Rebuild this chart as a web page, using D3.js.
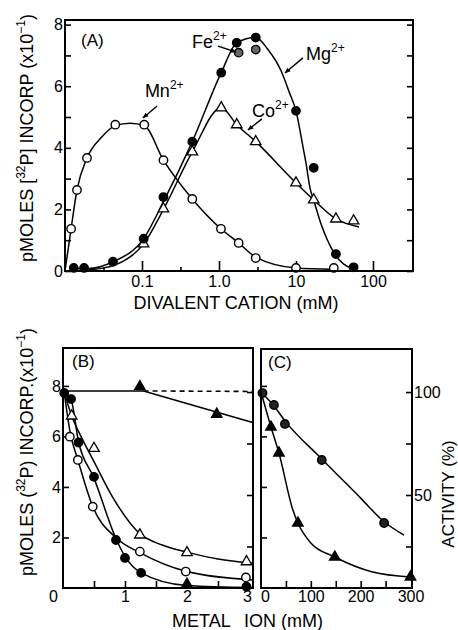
<!DOCTYPE html>
<html>
<head>
<meta charset="utf-8">
<script src="https://cdn.jsdelivr.net/npm/d3@7"></script>
<style>
  body { margin: 0; background: #fff; }
  svg text { font-family: "Liberation Sans", Arial, sans-serif; fill: #000; }
  .axis path.domain { display: none; }
  .axis line { stroke: #000; stroke-width: 1.6; }
  .axis text { font-size: 16px; font-family: "Liberation Sans", Arial, sans-serif; }
</style>
</head>
<body>
<div id="chart"></div>
<script>
// ---------- panel A : divalent cation (mM, log) vs pmoles x10^-1 ----------
var mnPoints = [[0.012,1.37],[0.0143,2.63],[0.0193,3.67],[0.045,4.75],[0.107,4.75],[0.19,3.6],[0.45,2.34],[1.06,1.37],[1.8,0.91],[3.0,0.42],[10,0.1],[31,0.1]];
var mgPoints = [[0.013,0.1],[0.0177,0.1],[0.042,0.3],[0.105,1.05],[0.19,2.4],[0.45,4.2],[1.07,6.44],[1.7,7.41],[3.0,7.58],[10,5.2],[17,3.35],[33,0.55],[56,0.12]];
var fePoints = [[1.8,7.09],[3.0,7.19]];
var coPoints = [[0.105,0.88],[0.19,2.02],[0.45,3.87],[1.07,5.3],[1.7,4.75],[3.0,4.2],[10,2.86],[17,2.31],[33,1.69],[56,1.63]];

var mnCurve = [[0.01,0],[0.012,1.37],[0.0143,2.63],[0.0193,3.67],[0.03,4.35],[0.045,4.72],[0.07,4.8],[0.107,4.72],[0.19,3.6],[0.45,2.34],[1.06,1.37],[1.8,0.91],[3.0,0.45],[10,0.1],[31,0.06]];
var mgCurve = [[0.013,0.08],[0.02,0.08],[0.042,0.3],[0.105,1.05],[0.19,2.25],[0.45,4.2],[1.07,6.44],[1.7,7.41],[3.0,7.58],[4.3,7.2],[6.4,6.5],[8.2,5.8],[10,5.2],[12.4,4.0],[13.5,3.5],[15.2,2.7],[17,2.3],[21,1.55],[31,0.6],[56,0.05]];
var coCurve = [[0.02,0.03],[0.045,0.2],[0.105,0.88],[0.19,2.0],[0.45,3.87],[1.07,5.3],[1.7,4.75],[3.0,4.2],[10,2.86],[17,2.31],[33,1.69],[66,1.43]];

var aYTicks = [0,1,2,3,4,5,6,7,8];
var aXMajor = [0.1,1,10,100];
var aXLabels = ["0.1","1.0","10","100"];
var aXMinor = [0.0316,0.316,3.16,31.6];

// ---------- panel B : metal ion (mM) vs pmoles x10^-1 ----------
var bOpenTri = [[0.14,6.81],[0.5,5.53],[1.24,2.1],[2.0,1.4],[2.96,1.04]];
var bOpenCirc = [[0.11,5.99],[0.24,5.07],[0.48,3.22],[1.24,1.44],[1.98,0.65],[2.95,0.42]];
var bFilledCirc = [[0.02,7.72],[0.13,7.48],[0.25,5.76],[0.5,4.4],[0.855,1.9],[1.0,1.19],[1.26,0.6],[2.96,0.05]];
var bFilledTri = [[1.24,7.97],[2.48,6.88],[2.0,0.15]];

var bTriCurve = [[0.02,7.72],[0.15,6.75],[0.3,5.95],[0.5,5.0],[0.8,3.6],[1.24,2.15],[1.6,1.7],[2.0,1.42],[2.5,1.15],[3.06,0.98]];
var bCircCurve = [[0.02,7.72],[0.12,6.1],[0.24,5.07],[0.48,3.22],[0.85,2.0],[1.24,1.4],[2.0,0.65],[3.06,0.32]];
var bFilledCurve = [[0.02,7.72],[0.13,7.45],[0.25,5.8],[0.5,4.35],[0.855,1.95],[1.0,1.25],[1.26,0.6],[2.0,0.1],[3.06,0.02]];
var bFlatLine = [[0,7.8],[1.3,7.8],[3.06,6.55]];
var bDashLine = [[1.3,7.8],[3.06,7.78]];

var bYTicks = [2,4,6,8];
var bXTicks = [0.5,1,1.5,2,2.5];
var bXLabels = [0,1,2,3];

// ---------- panel C : metal ion (mM) vs activity (%) ----------
var cCircles = [[3,99.5],[26,93.7],[48,84.5],[122,67],[247,36.4]];
var cTriangles = [[20,83],[36,70.4],[74,36.4],[148,19.9],[300,10.2]];
var cCircCurve = [[0,100],[26,93.2],[48,86],[122,67.5],[200,48.5],[247,37],[287,30.5]];
var cTriCurve = [[0,100],[20,83],[36,70.4],[64,42.7],[74,36.4],[100,26.7],[148,19.9],[224,12.6],[300,10.2]];

var cYTicks = [25,50,75,100];
var cYLabels = [50,100];
var cXTicks = [50,100,150,200,250];
var cXLabels = [0,100,200,300];

var width = 458, height = 630;

var svg = d3.select("#chart").append("svg")
  .attr("width", width)
  .attr("height", height);

svg.append("defs").append("marker")
  .attr("id", "arrow")
  .attr("viewBox", "0 0 10 10")
  .attr("refX", 9).attr("refY", 5)
  .attr("markerWidth", 6).attr("markerHeight", 6)
  .attr("markerUnits", "userSpaceOnUse")
  .attr("orient", "auto")
  .append("path")
  .attr("d", "M0,1L10,5L0,9Z")
  .attr("fill", "#000");

// scales
var xA = d3.scaleLog().domain([0.01, 331]).range([65, 413]);
var yA = d3.scaleLinear().domain([0, 8.15]).range([271, 20]);
var xB = d3.scaleLinear().domain([0, 3.065]).range([63, 253]);
var yB = d3.scaleLinear().domain([0, 9.5]).range([588, 348]);
var xC = d3.scaleLinear().domain([0, 303]).range([261, 412]);
var yC = d3.scaleLinear().domain([4.85, 120.9]).range([588, 349]);

function frame(x, y) {
  svg.append("rect")
    .attr("x", x.range()[0]).attr("y", y.range()[1])
    .attr("width", x.range()[1] - x.range()[0])
    .attr("height", y.range()[0] - y.range()[1])
    .attr("fill", "none")
    .attr("stroke", "#000")
    .attr("stroke-width", 2);
}

function curve(x, y, data, dash) {
  var line = d3.line()
    .x(function(d){ return x(d[0]); })
    .y(function(d){ return y(d[1]); })
    .curve(d3.curveMonotoneX);
  svg.append("path")
    .datum(data)
    .attr("d", line)
    .attr("fill", "none")
    .attr("stroke", "#000")
    .attr("stroke-width", 1.5)
    .attr("stroke-dasharray", dash || null);
}

function polyline(x, y, data, dash) {
  var line = d3.line()
    .x(function(d){ return x(d[0]); })
    .y(function(d){ return y(d[1]); });
  svg.append("path")
    .datum(data)
    .attr("d", line)
    .attr("fill", "none")
    .attr("stroke", "#000")
    .attr("stroke-width", 1.6)
    .attr("stroke-dasharray", dash || null);
}

function circles(x, y, data, fill) {
  svg.append("g").selectAll("circle")
    .data(data)
    .enter()
    .append("circle")
    .attr("cx", function(d){ return x(d[0]); })
    .attr("cy", function(d){ return y(d[1]); })
    .attr("r", 4.2)
    .attr("fill", fill)
    .attr("stroke", "#000")
    .attr("stroke-width", 1.4);
}

function triangles(x, y, data, fill) {
  var sym = d3.symbol().type(d3.symbolTriangle).size(48);
  svg.append("g").selectAll("path")
    .data(data)
    .enter()
    .append("path")
    .attr("d", sym)
    .attr("transform", function(d){ return "translate(" + x(d[0]) + "," + y(d[1]) + ")"; })
    .attr("fill", fill)
    .attr("stroke", "#000")
    .attr("stroke-width", 1.3);
}

// text with superscripts: parts = [[text, isSup], ...]
function rich(sel, parts, size, supSize) {
  var up = false;
  parts.forEach(function(p){
    var t = sel.append("tspan").text(p[0]);
    if (p[1]) {
      t.attr("font-size", supSize + "px").attr("dy", -size * 0.42);
      up = true;
    } else {
      t.attr("font-size", size + "px");
      if (up) { t.attr("dy", size * 0.42); up = false; }
    }
  });
  return sel;
}

function annotate(x, y, pos, parts) {
  var t = svg.append("text")
    .attr("x", x(pos[0])).attr("y", y(pos[1]));
  rich(t, parts, 18, 12);
}

function arrow(x, y, from, to) {
  svg.append("line")
    .attr("x1", x(from[0])).attr("y1", y(from[1]))
    .attr("x2", x(to[0])).attr("y2", y(to[1]))
    .attr("stroke", "#000")
    .attr("stroke-width", 1.4)
    .attr("marker-end", "url(#arrow)");
}

// ================= panel A =================
svg.append("g").attr("class", "axis")
  .attr("transform", "translate(65,0)")
  .call(d3.axisLeft(yA).tickValues(aYTicks).tickSize(-6).tickPadding(2)
    .tickFormat(function(d){ return d % 2 === 0 ? d : ""; }));
svg.append("g").attr("class", "axis")
  .attr("transform", "translate(413,0)")
  .call(d3.axisRight(yA).tickValues(aYTicks).tickSize(-6).tickFormat(""));
svg.append("g").attr("class", "axis")
  .attr("transform", "translate(0,271)")
  .call(d3.axisBottom(xA).tickValues(aXMajor).tickSize(-10).tickPadding(5)
    .tickFormat(function(d, i){ return aXLabels[i]; }));
svg.append("g").attr("class", "axis")
  .attr("transform", "translate(0,271)")
  .call(d3.axisBottom(xA).tickValues(aXMinor).tickSize(-4).tickFormat(""));

curve(xA, yA, mnCurve);
curve(xA, yA, mgCurve);
curve(xA, yA, coCurve);
circles(xA, yA, mnPoints, "#fff");
triangles(xA, yA, coPoints, "#fff");
circles(xA, yA, mgPoints, "#000");
circles(xA, yA, fePoints, "#666");
frame(xA, yA);

svg.append("text").attr("x", 81).attr("y", 46).attr("font-size", "17px").text("(A)");
annotate(xA, yA, [0.109, 5.65], [["Mn", false], ["2+", true]]);
arrow(xA, yA, [0.157, 5.36], [0.103, 4.97]);
annotate(xA, yA, [0.446, 7.24], [["Fe", false], ["2+", true]]);
arrow(xA, yA, [0.97, 7.3], [1.66, 7.11]);
annotate(xA, yA, [13.5, 6.85], [["Mg", false], ["2+", true]]);
arrow(xA, yA, [12.3, 6.92], [7.2, 6.43]);
annotate(xA, yA, [2.68, 5.0], [["Co", false], ["2+", true]]);
arrow(xA, yA, [3.61, 4.94], [2.38, 4.58]);

svg.append("text")
  .attr("x", 236).attr("y", 309)
  .attr("text-anchor", "middle")
  .attr("font-size", "18px")
  .text("DIVALENT CATION (mM)");

rich(svg.append("text")
    .attr("transform", "translate(33,138) rotate(-90)")
    .attr("text-anchor", "middle"),
  [["pMOLES [", false], ["32", true], ["P] INCORP (x10", false], ["\u22121", true], [")", false]], 18, 12);

// ================= panel B =================
svg.append("g").attr("class", "axis")
  .attr("transform", "translate(63,0)")
  .call(d3.axisLeft(yB).tickValues(bYTicks).tickSize(-6).tickPadding(2));
svg.append("g").attr("class", "axis")
  .attr("transform", "translate(253,0)")
  .call(d3.axisRight(yC).tickValues(cYTicks).tickSize(-6).tickFormat(""));
svg.append("g").attr("class", "axis")
  .attr("transform", "translate(0,588)")
  .call(d3.axisBottom(xB).tickValues(bXTicks).tickSize(-7).tickFormat(""));
var bLab = svg.append("g").attr("class", "axis")
  .attr("transform", "translate(0,588)")
  .call(d3.axisBottom(xB).tickValues(bXLabels).tickSize(0).tickPadding(3)
    .tickFormat(d3.format("d")));
bLab.selectAll(".tick text").attr("dx", function(d){ return d === 0 ? -10 : (d === 3 ? -2 : 0); });

polyline(xB, yB, bFlatLine);
polyline(xB, yB, bDashLine, "5,4");
curve(xB, yB, bTriCurve);
curve(xB, yB, bCircCurve);
curve(xB, yB, bFilledCurve);
triangles(xB, yB, bOpenTri, "#fff");
circles(xB, yB, bOpenCirc, "#fff");
circles(xB, yB, bFilledCirc, "#000");
triangles(xB, yB, bFilledTri, "#000");
frame(xB, yB);

svg.append("text").attr("x", 72).attr("y", 367).attr("font-size", "17px").text("(B)");

rich(svg.append("text")
    .attr("transform", "translate(33,452) rotate(-90)")
    .attr("text-anchor", "middle"),
  [["pMOLES (", false], ["32", true], ["P) INCORP.(x10", false], ["\u22121", true], [")", false]], 18, 12);

// ================= panel C =================
svg.append("g").attr("class", "axis")
  .attr("transform", "translate(261,0)")
  .call(d3.axisLeft(yB).tickValues(bYTicks).tickSize(-6).tickFormat(""));
svg.append("g").attr("class", "axis")
  .attr("transform", "translate(412,0)")
  .call(d3.axisRight(yC).tickValues(cYTicks).tickSize(-6).tickPadding(2)
    .tickFormat(function(d){ return cYLabels.indexOf(d) >= 0 ? d : ""; }));
svg.append("g").attr("class", "axis")
  .attr("transform", "translate(0,588)")
  .call(d3.axisBottom(xC).tickValues(cXTicks).tickSize(-7).tickFormat(""));
var cLab = svg.append("g").attr("class", "axis")
  .attr("transform", "translate(0,588)")
  .call(d3.axisBottom(xC).tickValues(cXLabels).tickSize(0).tickPadding(3)
    .tickFormat(d3.format("d")));
cLab.selectAll(".tick text").attr("dx", function(d){ return d === 0 ? 4 : 0; });

curve(xC, yC, cCircCurve);
curve(xC, yC, cTriCurve);
circles(xC, yC, cCircles, "#222");
triangles(xC, yC, cTriangles, "#000");
frame(xC, yC);

svg.append("text").attr("x", 268).attr("y", 368).attr("font-size", "17px").text("(C)");

svg.append("text")
  .attr("transform", "translate(454,494) rotate(-90)")
  .attr("text-anchor", "middle")
  .attr("font-size", "17px")
  .text("ACTIVITY (%)");

svg.append("text")
  .attr("x", 172).attr("y", 627)
  .attr("font-size", "18px")
  .text("METAL");
svg.append("text")
  .attr("x", 244).attr("y", 627)
  .attr("font-size", "18px")
  .text("ION (mM)");
</script>
</body>
</html>
